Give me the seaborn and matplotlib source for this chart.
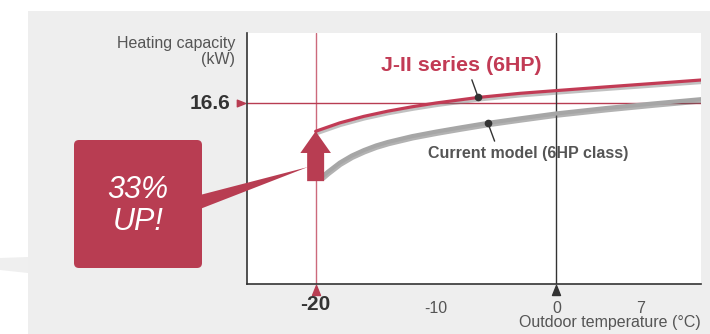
import numpy as np
import pandas as pd
import matplotlib
matplotlib.use("Agg")
import matplotlib.pyplot as plt
import seaborn as sns
from matplotlib import patheffects as pe
from matplotlib import transforms as mtrans
from matplotlib.patches import FancyBboxPatch, Polygon, Rectangle, FancyArrow
from matplotlib.path import Path

# ---------------- data ----------------
new_temp = [-20.0, -18.0, -16.0, -14.0, -12.0, -10.0, -8.0, -6.5, -3.0, 0.0, 4.0, 8.0, 12.0]
new_cap = [14.03, 14.80, 15.40, 15.88, 16.28, 16.63, 16.92, 17.14, 17.52, 17.77, 18.10, 18.42, 18.74]
cur_temp = [-19.4, -19.0, -18.0, -17.0, -16.0, -15.0, -14.0, -12.0, -10.0, -8.0, -5.7, -3.0, 0.0, 4.0, 8.0, 12.0]
cur_cap = [9.92, 10.30, 11.15, 11.80, 12.30, 12.72, 13.05, 13.58, 14.00, 14.38, 14.80, 15.22, 15.67, 16.15, 16.58, 16.98]
x_ticks = [-20, -10, 0, 7]
x_tick_labels = ["-20", "-10", "0", "7"]
ref_temp = -20
ref_cap = 16.6
ref_cap_label = "16.6"
arrow_base_cap = 9.45
new_label = "J-II series (6HP)"
cur_label = "Current model (6HP class)"
gain_text = "33%\nUP!"
x_label = "Outdoor temperature (°C)"
y_label = "Heating capacity\n(kW)"
new_dot_idx = 7
cur_dot_idx = 10

# ---------------- style ----------------
sns.set_theme(style="white")
plt.rcParams["font.family"] = ["Liberation Sans", "DejaVu Sans"]

RED = "#b83d52"
DARK = "#333333"
GREY_TXT = "#555555"

fig = plt.figure(figsize=(7.1, 3.34), dpi=100)
fig.patch.set_facecolor("white")
# top-down pixel transform
px = mtrans.Affine2D().scale(1 / 710, -1 / 334).translate(0, 1) + fig.transFigure

# background panel and left stripe
fig.add_artist(Rectangle((28, 11), 682, 323, transform=px, facecolor="#eeeeee",
                         edgecolor="none", zorder=-2))
fig.add_artist(Polygon([(0, 258), (28, 257), (28, 273), (0, 270)], closed=True,
                       transform=px, facecolor="#efefef", edgecolor="none", zorder=-2))

ax = fig.add_axes([247 / 710, 50 / 334, 454 / 710, 251 / 334])
ax.set_facecolor("white")

df_new = pd.DataFrame({"temp": new_temp, "cap": new_cap})
df_cur = pd.DataFrame({"temp": cur_temp, "cap": cur_cap})

sns.lineplot(data=df_cur, x="temp", y="cap", ax=ax, color="#a6a6a6", lw=3.0,
             estimator=None, zorder=3,
             path_effects=[pe.SimpleLineShadow(offset=(0.6, -1.6), shadow_color="#555555", alpha=0.45),
                           pe.Normal()])
sns.lineplot(data=df_new, x="temp", y="cap", ax=ax, color="#c23b55", lw=2.3,
             estimator=None, zorder=3,
             path_effects=[pe.SimpleLineShadow(offset=(0.6, -1.8), shadow_color="#777777", alpha=0.45),
                           pe.Normal()])

ax.axvline(ref_temp, color="#cc6a7c", lw=1.0, zorder=2)
ax.axhline(ref_cap, color=RED, lw=1.0, zorder=2)
ax.axvline(0, color=DARK, lw=1.0, zorder=2)

ax.set_xlim(-25.7, 12)
ax.set_ylim(0, 23.06)
ax.set_xticks([])
ax.set_yticks([])
ax.set_xlabel("")
ax.set_ylabel("")
for s in ["top", "right"]:
    ax.spines[s].set_visible(False)
for s in ["left", "bottom"]:
    ax.spines[s].set_color(DARK)
    ax.spines[s].set_linewidth(1.2)

# tick labels
for t, lab in zip(x_ticks, x_tick_labels):
    hi = t == ref_temp
    ax.annotate(lab, xy=(t, 0), xycoords=ax.get_xaxis_transform(),
                xytext=(0, -21 if hi else -24.5), textcoords="offset pixels",
                ha="center", va="center", fontsize=15 if hi else 11.5,
                fontweight="bold" if hi else "normal",
                color=DARK if hi else GREY_TXT, annotation_clip=False)

ax.annotate(x_label, xy=(1, 0), xycoords="axes fraction", xytext=(0, -39),
            textcoords="offset pixels", ha="right", va="center", fontsize=11.5,
            color=GREY_TXT, annotation_clip=False)
ax.annotate(y_label, xy=(0, 1), xycoords="axes fraction", xytext=(-12, -18.5),
            textcoords="offset pixels", ha="right", va="center", fontsize=11.5,
            color=GREY_TXT, multialignment="right", linespacing=1.12,
            annotation_clip=False)
ax.annotate(ref_cap_label, xy=(0, ref_cap), xycoords=ax.get_yaxis_transform(),
            xytext=(-17, 0), textcoords="offset pixels", ha="right", va="center",
            fontsize=15, fontweight="bold", color=DARK, annotation_clip=False)

# triangle markers
up_tri = Path([(0, 1), (-0.8, -1), (0.8, -1), (0, 1)], closed=True)
right_tri = Path([(1, 0), (-1, 0.8), (-1, -0.8), (1, 0)], closed=True)
below = ax.get_xaxis_transform() + mtrans.ScaledTranslation(0, -6 / 100, fig.dpi_scale_trans)
ax.plot([ref_temp], [0], marker=up_tri, ms=7.2, color=RED, transform=below,
        clip_on=False, ls="none")
ax.plot([0], [0], marker=up_tri, ms=7.2, color=DARK, transform=below,
        clip_on=False, ls="none")
left = ax.get_yaxis_transform() + mtrans.ScaledTranslation(-6.5 / 100, 0, fig.dpi_scale_trans)
ax.plot([0], [ref_cap], marker=right_tri, ms=6.0, color=RED, transform=left,
        clip_on=False, ls="none")

# up arrow
ax.add_patch(FancyArrow(ref_temp, arrow_base_cap, 0, new_cap[0] - arrow_base_cap,
                        width=17 / 12.05, head_width=30.6 / 12.05, head_length=21.7 / 10.886,
                        length_includes_head=True, facecolor=RED, edgecolor="none", zorder=4))

# series labels with leaders
ax.plot([new_temp[new_dot_idx]], [new_cap[new_dot_idx]], "o", color=DARK, ms=4.5, zorder=5)
ax.plot([cur_temp[cur_dot_idx]], [cur_cap[cur_dot_idx]], "o", color=DARK, ms=4.5, zorder=5)
ax.annotate(new_label, xy=(new_temp[new_dot_idx], new_cap[new_dot_idx]),
            xytext=(-17, 31.7), textcoords="offset pixels", ha="center", va="center",
            fontsize=15.4, fontweight="bold", color="#c23b55",
            arrowprops=dict(arrowstyle="-", color=DARK, lw=1.0, relpos=(0.556, 0),
                            shrinkA=1, shrinkB=0), zorder=5)
ax.annotate(cur_label, xy=(cur_temp[cur_dot_idx], cur_cap[cur_dot_idx]),
            xytext=(40.5, -30.3), textcoords="offset pixels", ha="center", va="center",
            fontsize=11.5, fontweight="bold", color=GREY_TXT,
            arrowprops=dict(arrowstyle="-", color=DARK, lw=1.0, relpos=(0.34, 1),
                            shrinkA=1, shrinkB=0), zorder=5)

# callout box
fig.add_artist(FancyBboxPatch((74, 140), 128, 128, boxstyle="round,pad=0,rounding_size=5",
                              transform=px, facecolor=RED, edgecolor="none", zorder=5))
fig.add_artist(Polygon([(200, 195), (200, 209), (308, 167)], closed=True, transform=px,
                       facecolor=RED, edgecolor="none", zorder=5))
fig.text(138, 206, gain_text, transform=px, ha="center", va="center", color="white",
         fontsize=22, style="italic", linespacing=1.05, zorder=6)

fig.savefig("out.png", dpi=100, facecolor="white")
